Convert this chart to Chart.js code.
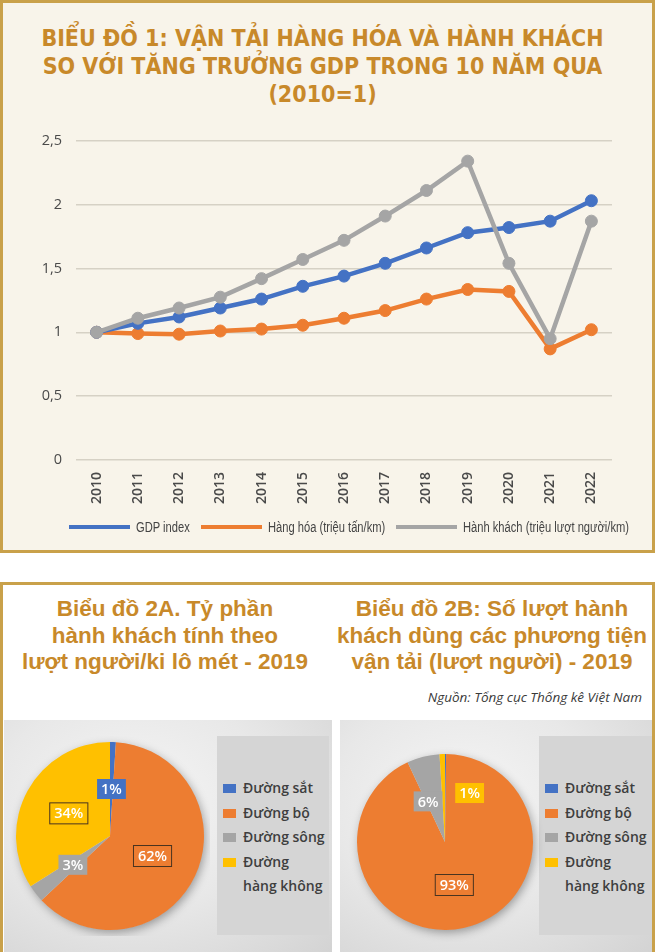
<!DOCTYPE html>
<html lang="vi">
<head>
<meta charset="utf-8">
<script src="https://cdn.jsdelivr.net/npm/chart.js@4.4.1/dist/chart.umd.min.js"></script>
<style>
  body { margin: 0; width: 657px; height: 952px; position: relative; overflow: hidden; background: #fff; font-family: "Open Sans", sans-serif; }
  .panel { position: absolute; left: 0; width: 655px; box-sizing: border-box; border: 3px solid #c9a14a; }
  #top { top: 0; height: 553px; background: #f8f4ea; }
  #bottom { top: 582px; height: 400px; background: #fff; }
  .title { position: absolute; color: #c8892a; font-weight: bold; text-align: center; white-space: nowrap; }
  #t1 { left: 0; top: 24px; width: 645px; font-family: "Liberation Sans Narrow", "DejaVu Sans Condensed", sans-serif; font-size: 23px; line-height: 28px; }
  .t2 { top: 596px; width: 330px; font-family: "Liberation Sans", sans-serif; font-size: 22.5px; line-height: 26.5px; }
  #t2a { left: 0; }
  #t2b { left: 327px; }
  #source { position: absolute; right: 15px; top: 688px; font-style: italic; font-size: 13.5px; color: #3a3a3a; }
  #lineLegend { position: absolute; left: 69px; top: 517px; height: 20px; display: flex; align-items: center; font-family: "Liberation Sans", sans-serif; font-size: 15.5px; color: #444; }
  #lineLegend .li { display: flex; align-items: center; margin-right: 11px; }
  #lineLegend .ln { width: 61px; height: 4px; margin-right: 6px; }
  #lineLegend .tx { display: inline-block; white-space: nowrap; }
  #lineLegend .tx span { display: inline-block; transform-origin: 0 50%; }
  .piebox { position: absolute; top: 720px; height: 232px; background: radial-gradient(ellipse at 40% 35%, #f5f5f5 0%, #e8e8e8 50%, #d3d3d3 100%); }
  .legbox { position: absolute; top: 736px; height: 199px; background: #d5d5d5; }
  .leg { position: absolute; top: 776px; width: 108px; font-size: 14px; font-weight: 600; color: #3e3e3e; line-height: 24.6px; }
  .leg div { display: flex; align-items: flex-start; }
  .leg span.sw { flex: none; width: 13px; height: 9px; margin: 8px 7px 0 0; }
  canvas { position: absolute; }
</style>
</head>
<body>
<div class="panel" id="top"></div>
<div class="panel" id="bottom"></div>

<div class="title" id="t1">BIỂU ĐỒ 1: VẬN TẢI HÀNG HÓA VÀ HÀNH KHÁCH<br>SO VỚI TĂNG TRƯỞNG GDP TRONG 10 NĂM QUA<br>(2010=1)</div>
<canvas id="lineChart" width="655" height="432" style="left:0;top:118px"></canvas>
<div id="lineLegend"></div>

<div class="title t2" id="t2a">Biểu đồ 2A. Tỷ phần<br>hành khách tính theo<br>lượt người/ki lô mét - 2019</div>
<div class="title t2" id="t2b">Biểu đồ 2B: Số lượt hành<br>khách dùng các phương tiện<br>vận tải (lượt người) - 2019</div>
<div id="source">Nguồn: Tổng cục Thống kê Việt Nam</div>

<div class="piebox" style="left:4px;width:328px"></div>
<div class="legbox" style="left:217px;width:112px"></div>
<canvas id="pieA" width="200" height="200" style="left:10px;top:736px"></canvas>
<div class="leg" id="legA" style="left:223px"></div>

<div class="piebox" style="left:340px;width:312px"></div>
<div class="legbox" style="left:539px;width:113px"></div>
<canvas id="pieB" width="200" height="200" style="left:345px;top:742px"></canvas>
<div class="leg" id="legB" style="left:545px"></div>

<script>
const years = ['2010', '2011', '2012', '2013', '2014', '2015', '2016', '2017', '2018', '2019', '2020', '2021', '2022'];
const gdpIndex = [1, 1.07, 1.12, 1.19, 1.26, 1.36, 1.44, 1.54, 1.66, 1.78, 1.82, 1.87, 2.03];
const freight = [1, 0.99, 0.985, 1.01, 1.025, 1.055, 1.11, 1.17, 1.26, 1.335, 1.32, 0.87, 1.02];
const passengers = [1, 1.11, 1.19, 1.275, 1.42, 1.57, 1.72, 1.91, 2.11, 2.34, 1.54, 0.95, 1.87];
const seriesNames = ['GDP index', 'Hàng hóa (triệu tấn/km)', 'Hành khách (triệu lượt người/km)'];

const modes = ['Đường sắt', 'Đường bộ', 'Đường sông', 'Đường hàng không'];
const shareKm2019 = [1, 62, 3, 34];
const shareTrips2019 = [0.2, 93, 6, 1];

const BLUE = '#4472c4', ORANGE = '#ed7d31', GRAY = '#a5a5a5', YELLOW = '#ffc000';
const seriesColors = [BLUE, ORANGE, GRAY];
const modeColors = [BLUE, ORANGE, GRAY, YELLOW];

document.addEventListener('DOMContentLoaded', function () {
    createLineChart();
    buildLineLegend();
    createPie('pieA', shareKm2019, { shift: [[0, 0], [0, 0], [0, 0], [0, 0]], outlined: [false, true, false, true] });
    createPie('pieB', shareTrips2019, { shift: [[0, 0], [0, 0], [-6, 2], [26, -5]], outlined: [false, true, false, false] });
    buildLegend('legA');
    buildLegend('legB');
});

function lineSet(i, data, order) {
    return {
        label: seriesNames[i],
        data: data,
        borderColor: seriesColors[i],
        backgroundColor: seriesColors[i],
        pointBackgroundColor: seriesColors[i],
        pointBorderColor: seriesColors[i],
        borderWidth: 4.5,
        pointRadius: 6,
        pointBorderWidth: 1,
        tension: 0,
        order: order
    };
}

function createLineChart() {
    const ctx = document.getElementById('lineChart').getContext('2d');
    new Chart(ctx, {
        type: 'line',
        data: {
            labels: years,
            datasets: [
                lineSet(0, gdpIndex, 2),
                lineSet(1, freight, 3),
                lineSet(2, passengers, 1) // drawn on top, as in the original
            ]
        },
        options: {
            responsive: false,
            animation: false,
            layout: { padding: { left: 30, right: 43, top: 22, bottom: 39 } },
            plugins: {
                tooltip: { enabled: false },
                legend: { display: false }
            },
            scales: {
                x: {
                    offset: true,
                    grid: { display: false },
                    border: { display: false },
                    ticks: {
                        minRotation: 90,
                        maxRotation: 90,
                        padding: 4,
                        color: '#4a4a4a',
                        font: { family: '"Open Sans"', size: 14, weight: '600' }
                    },
                    afterFit: (scale) => { scale.height = 51; }
                },
                y: {
                    min: 0,
                    max: 2.5,
                    grid: { color: '#d6d1c5', lineWidth: 1.5, drawTicks: false },
                    border: { display: false },
                    ticks: {
                        stepSize: 0.5,
                        padding: 14,
                        color: '#4a4a4a',
                        font: { family: '"Open Sans"', size: 14.5 },
                        callback: (v) => String(v).replace('.', ',')
                    },
                    afterFit: (scale) => { scale.width = 46; }
                }
            }
        }
    });
}

// narrow legend text like the original condensed face
function buildLineLegend() {
    const box = document.getElementById('lineLegend');
    const squeeze = 0.72;
    seriesNames.forEach((name, i) => {
        const item = document.createElement('div');
        item.className = 'li';
        item.innerHTML = '<span class="ln" style="background:' + seriesColors[i] + '"></span><span class="tx"><span>' + name + '</span></span>';
        box.appendChild(item);
        const inner = item.querySelector('.tx span');
        const w = inner.getBoundingClientRect().width;
        inner.style.transform = 'scaleX(' + squeeze + ')';
        item.querySelector('.tx').style.width = (w * squeeze) + 'px';
    });
}

// soft shadow under the pie, like the Excel effect
const pieShadow = {
    id: 'pieShadow',
    beforeDatasetsDraw(chart) {
        const arc = chart.getDatasetMeta(0).data[0];
        const ctx = chart.ctx;
        ctx.save();
        ctx.shadowColor = 'rgba(0,0,0,0.35)';
        ctx.shadowBlur = 10;
        ctx.shadowOffsetX = 2;
        ctx.shadowOffsetY = 3;
        ctx.fillStyle = '#ddd';
        ctx.beginPath();
        ctx.arc(arc.x, arc.y, arc.outerRadius - 0.5, 0, Math.PI * 2);
        ctx.fill();
        ctx.restore();
    }
};

// percentage boxes placed at the middle of each slice
const sliceLabels = {
    id: 'sliceLabels',
    afterDatasetsDraw(chart, args, opts) {
        const ctx = chart.ctx;
        const ds = chart.data.datasets[0];
        chart.getDatasetMeta(0).data.forEach((arc, i) => {
            const v = Math.round(ds.data[i]);
            if (v < 1) return;
            const p = arc.getProps(['x', 'y', 'startAngle', 'endAngle', 'outerRadius'], true);
            const mid = (p.startAngle + p.endAngle) / 2;
            const sh = opts.shift[i] || [0, 0];
            const cx = p.x + Math.cos(mid) * p.outerRadius * 0.5 + sh[0];
            const cy = p.y + Math.sin(mid) * p.outerRadius * 0.5 + sh[1];
            const text = v + '%';
            ctx.save();
            ctx.font = '600 14.5px "Open Sans"';
            const w = ctx.measureText(text).width + 8;
            const h = 20;
            ctx.fillStyle = ds.backgroundColor[i];
            ctx.fillRect(cx - w / 2, cy - h / 2, w, h);
            if (opts.outlined[i]) {
                ctx.strokeStyle = '#4a3420';
                ctx.lineWidth = 1;
                ctx.strokeRect(cx - w / 2 - 0.5, cy - h / 2 - 0.5, w + 1, h + 1);
            }
            ctx.fillStyle = '#fff';
            ctx.textAlign = 'center';
            ctx.textBaseline = 'middle';
            ctx.fillText(text, cx, cy + 1);
            ctx.restore();
        });
    }
};

function createPie(id, values, labelOpts) {
    const ctx = document.getElementById(id).getContext('2d');
    new Chart(ctx, {
        type: 'pie',
        data: {
            labels: modes,
            datasets: [{ data: values, backgroundColor: modeColors, borderWidth: 0 }]
        },
        options: {
            responsive: false,
            animation: false,
            layout: { padding: id === 'pieA' ? 6 : 12 },
            plugins: {
                legend: { display: false },
                tooltip: { enabled: false },
                sliceLabels: labelOpts
            }
        },
        plugins: [pieShadow, sliceLabels]
    });
}

function buildLegend(id) {
    const box = document.getElementById(id);
    modes.forEach((m, i) => {
        // long names break after the first word, as in the original legend
        const text = m.length > 12 ? m.replace(' ', '<br>') : m;
        const row = document.createElement('div');
        row.innerHTML = '<span class="sw" style="background:' + modeColors[i] + '"></span><span>' + text + '</span>';
        box.appendChild(row);
    });
}
</script>
</body>
</html>
